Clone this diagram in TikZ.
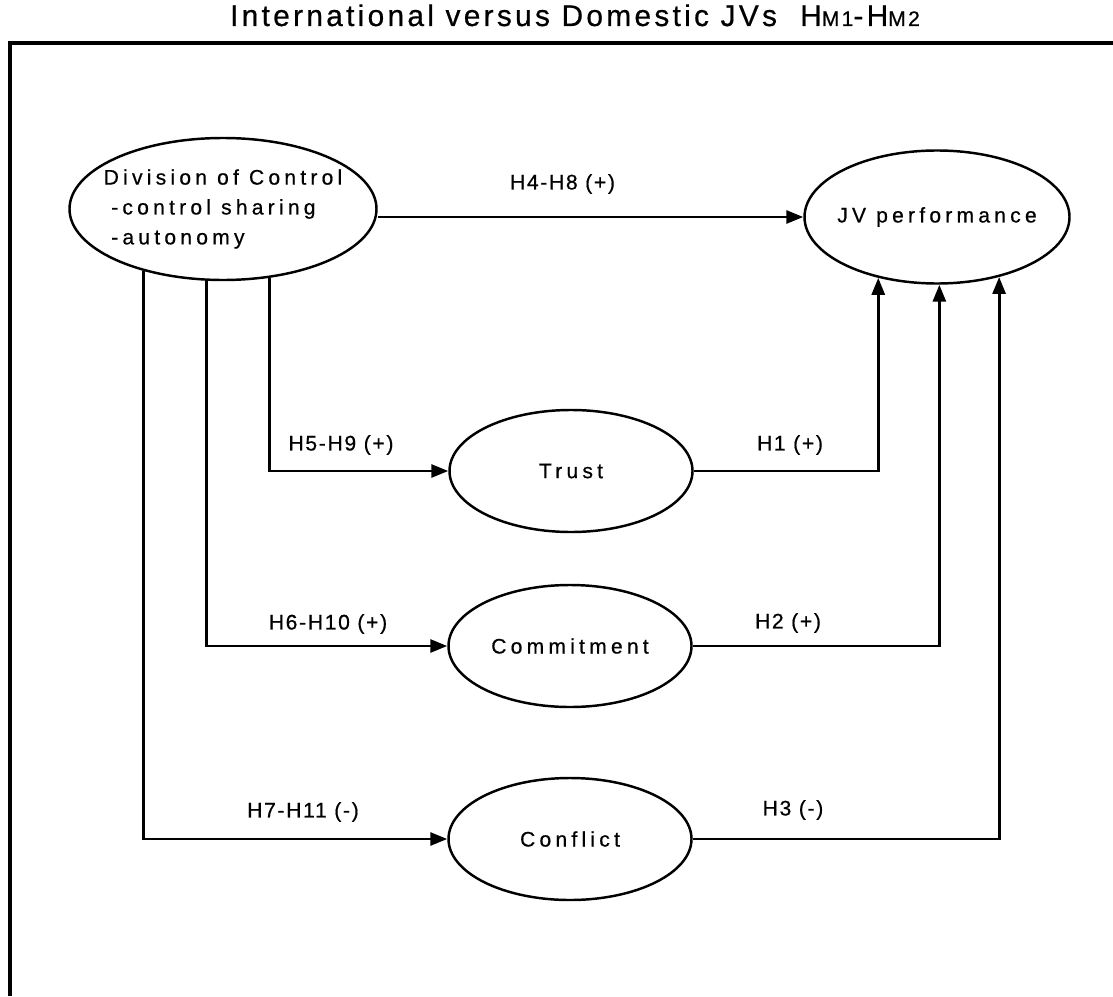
\documentclass[tikz,border=0pt]{standalone}
\usepackage{fontspec}
\setmainfont{Liberation Sans}
\newfontfamily\ovalfont[LetterSpace=20,FakeBold=0.6]{Liberation Sans}
\newfontfamily\labfont[LetterSpace=8,FakeBold=0.6]{Liberation Sans}
\newfontfamily\headfont[LetterSpace=11,FakeBold=0.6]{Liberation Sans}
\usetikzlibrary{shapes.geometric,arrows.meta}
\tikzset{
    OV1/.style ={ellipse, draw, line width=1.4pt, inner xsep=-3mm, inner ysep=0pt, font=\ovalfont\fontsize{12}{17}\selectfont},
    OV2/.style ={OV1, minimum width=4.86cm, minimum height=2.44cm},
    LB/.style ={font=\labfont\fontsize{12}{14}\selectfont},
    AR/.style ={line width=1.6pt, -{Triangle[length=3.4mm,width=2.6mm]}},
    LN/.style ={line width=1.8pt}}

\begin{document}
\begin{tikzpicture}
        \useasboundingbox (0,0) rectangle (22.26,-19.92);
        \draw[LN] (0.2,-19.92) -- (0.2,-0.86) -- (22.26,-0.86);
        \node[anchor=base, font=\headfont\fontsize{17}{19}\selectfont] (title) at (11.5,-0.52) {International versus Domestic JVs\ \ H{\fontsize{12}{12}\selectfont M1}-H{\fontsize{12}{12}\selectfont M2}};
        \node[OV1, minimum width=6.14cm, minimum height=2.84cm, align=left] (div) at (4.46,-4.18) {Division of Control\\\hspace{0.15cm}-control sharing\\\hspace{0.15cm}-autonomy};
        \node[OV1, minimum width=5.3cm, minimum height=2.66cm] (jv) at (18.74,-4.34) {JV performance};
        \node[OV2] (trust) at (11.42,-9.42) {Trust};
        \node[OV2] (com) at (11.40,-12.92) {Commitment};
        \node[OV2] (con) at (11.40,-16.78) {Conflict};
        \draw[AR] (div.east |- jv.west) -- (jv.west);
        \draw[AR] (div.304) |- (trust.west);
        \draw[AR] (div.257) |- (com.west);
        \draw[AR] (div.218) |- (con.west);
        \draw[AR] (trust.east) -| (jv.226);
        \draw[AR] (com.east) -| (jv.272);
        \draw[AR] (con.east) -| (jv.316);
        \node[LB] (h48) at (11.25,-3.68) {H4-H8 (+)};
        \node[LB] (h59) at (6.82,-8.9) {H5-H9 (+)};
        \node[LB] (h610) at (6.56,-12.48) {H6-H10 (+)};
        \node[LB] (h711) at (6.06,-16.24) {H7-H11 (-)};
        \node[LB] (h1) at (15.8,-8.9) {H1 (+)};
        \node[LB] (h2) at (15.76,-12.46) {H2 (+)};
        \node[LB] (h3) at (15.86,-16.2) {H3 (-)};
\end{tikzpicture}
\end{document}
